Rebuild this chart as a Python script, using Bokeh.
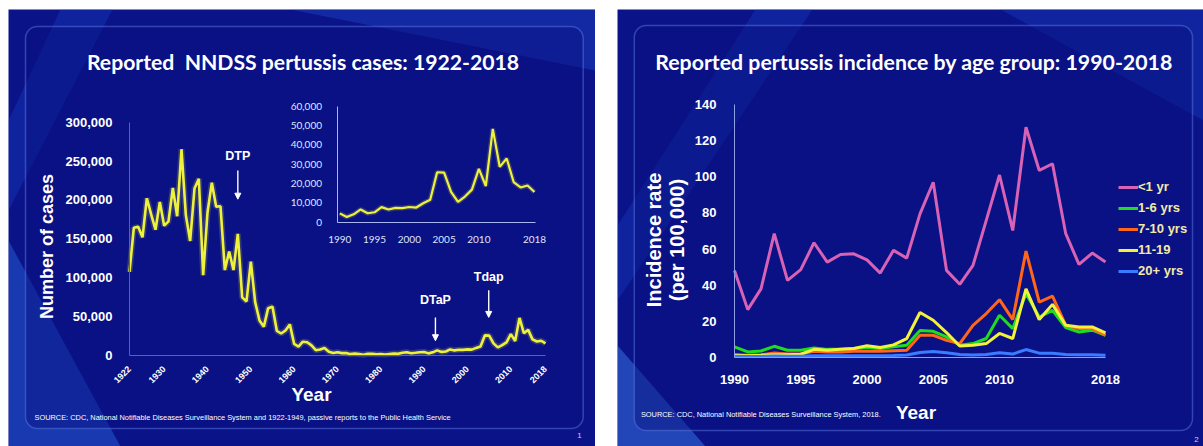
import math
from bokeh.plotting import figure
from bokeh.models import (Range1d, LinearAxis, FixedTicker, NumeralTickFormatter,
                          Label, Arrow, NormalHead, BoxAnnotation, PolyAnnotation,
                          Legend, LegendItem, Spacer)
from bokeh.layouts import row, column
from bokeh.embed import file_html
from bokeh.resources import INLINE

# ---------------- data ----------------
years = list(range(1922, 2019))
cases = [107473, 164191, 165418, 152003, 202210, 181411, 161799, 197371, 166914, 172559,
         215343, 179135, 265269, 180518, 147237, 214652, 227319, 103188, 183866, 222202,
         191383, 191890, 109873, 133792, 109860, 156517, 74715, 69479, 120718, 68687,
         45030, 37129, 60886, 62786, 31732, 28295, 32148, 40005, 14809, 11468,
         17749, 17135, 13005, 6799, 7717, 9718, 4810, 3285, 4249, 3036,
         3287, 1759, 2402, 1738, 1010, 2177, 2063, 1623, 1730, 1248,
         1895, 2463, 2276, 3589, 4195, 2823, 3450, 4157, 4570, 2719,
         4083, 6586, 4617, 5137, 7796, 6564, 7405, 7288, 7867, 7580,
         9771, 11647, 25827, 25616, 15632, 10454, 13278, 16858, 27550, 18719,
         48277, 28639, 32971, 20762, 17972, 18975, 15609]
inset_years = years[68:]
inset_cases = cases[68:]

main_x_ticks = [1922, 1930, 1940, 1950, 1960, 1970, 1980, 1990, 2000, 2010, 2018]
main_y_ticks = [0, 50000, 100000, 150000, 200000, 250000, 300000]
inset_x_ticks = [1990, 1995, 2000, 2005, 2010, 2018]
inset_y_ticks = [0, 10000, 20000, 30000, 40000, 50000, 60000]

vaccines = ["DTP", "DTaP", "Tdap"]
vaccine_years = [1947, 1992.6, 2004.9]

age_years = list(range(1990, 2019))
age_groups = ["<1 yr", "1-6 yrs", "7-10 yrs", "11-19", "20+ yrs"]
inc_lt1 = [48.2, 26.5, 38.0, 68.5, 42.7, 48.6, 63.5, 52.8, 57.0, 57.4, 54.0, 46.7, 59.3, 55.0,
           79.5, 97.0, 48.2, 40.5, 51.0, 75.9, 101.0, 70.3, 127.4, 103.5, 107.2, 68.5, 51.5, 57.8, 52.8]
inc_1_6 = [5.9, 3.1, 3.6, 6.2, 4.0, 4.0, 5.3, 4.5, 4.5, 5.0, 5.5, 5.0, 6.0, 6.8,
           15.0, 14.5, 11.4, 6.8, 7.7, 10.5, 23.4, 16.0, 35.4, 22.4, 26.1, 16.6, 14.1, 15.1, 12.3]
inc_7_10 = [1.5, 1.2, 1.5, 2.5, 2.0, 2.0, 3.5, 3.0, 3.0, 3.5, 3.5, 3.5, 3.8, 4.0,
            12.3, 12.3, 9.5, 7.7, 17.8, 24.3, 32.0, 21.0, 58.9, 30.7, 33.9, 17.8, 16.0, 16.0, 12.3]
inc_11_19 = [1.2, 1.0, 1.2, 1.5, 1.5, 1.8, 4.5, 4.0, 4.5, 5.0, 6.5, 5.5, 7.0, 10.5,
             24.9, 20.6, 13.8, 6.4, 6.8, 7.7, 13.3, 10.5, 38.0, 21.0, 29.4, 17.8, 16.9, 16.9, 13.6]
inc_20p = [0.7, 0.6, 0.6, 0.8, 0.7, 0.7, 1.0, 1.0, 1.0, 1.0, 1.0, 0.9, 1.1, 1.4,
           2.8, 3.3, 2.6, 1.6, 1.4, 1.6, 2.6, 1.9, 4.4, 2.4, 2.3, 1.7, 1.5, 1.5, 1.3]
age_x_ticks = [1990, 1995, 2000, 2005, 2010, 2018]
age_y_ticks = [0, 20, 40, 60, 80, 100, 120, 140]

# ---------------- styles ----------------
SLIDE = "#0b1389"
PANEL_LINE = "#5a78e0"
BOLD = "Liberation Sans"
TITLE_FONT = "Lato"
YELLOW = "#eef23c"
series_colors = ["#d862b4", "#1fdc1f", "#ff6619", "#f2f23c", "#3a7bff"]
PAGE_TOP, PAGE_BOTTOM = 9, 446
H = PAGE_BOTTOM - PAGE_TOP


def slide_fig(width, xr, yr):
    p = figure(width=width, height=H, x_range=xr, y_range=yr,
               min_border_left=0, min_border_right=0, min_border_top=0, min_border_bottom=0,
               x_axis_type=None, y_axis_type=None,
               output_backend="svg", toolbar_location=None)
    p.grid.visible = False
    p.outline_line_color = None
    p.border_fill_color = SLIDE
    p.background_fill_color = SLIDE
    return p


def style_axis(ax, color, font, size, bold, line_color, standoff):
    ax.axis_line_color = line_color
    ax.axis_line_width = 1
    ax.major_tick_line_color = None
    ax.minor_tick_line_color = None
    ax.major_label_text_color = color
    ax.major_label_text_font = font
    ax.major_label_text_font_size = size
    ax.major_label_text_font_style = "bold" if bold else "normal"
    ax.major_label_standoff = standoff


def add_text(p, sx, sy, text, size, bold=True, font=BOLD, color="white", align="center",
             angle=0.0):
    p.add_layout(Label(x=sx, y=sy, x_units="screen", y_units="screen", text=text,
                       angle=angle, text_align=align, text_baseline="middle", text_font=font,
                       text_font_style="bold" if bold else "normal",
                       text_font_size=size, text_color=color))


def decorate(p, sx, sy, polys, panel):
    for xs, ys, col, a in polys:
        p.add_layout(PolyAnnotation(xs=[sx(v) for v in xs], ys=[sy(v) for v in ys],
                                    xs_units="screen", ys_units="screen",
                                    fill_color=col, fill_alpha=a, line_color=None,
                                    level="underlay"))
    l, r, t, b = panel
    p.add_layout(BoxAnnotation(left=sx(l), right=sx(r), top=sy(t), bottom=sy(b),
                               left_units="screen", right_units="screen",
                               top_units="screen", bottom_units="screen",
                               fill_color="#08107e", fill_alpha=0.45, line_color=PANEL_LINE,
                               line_alpha=0.5, line_width=1.5, border_radius=12,
                               level="underlay"))


# ================= LEFT SLIDE =================
L_PAGE_X0, L_W = 8, 587
FX0, FX1 = 129.0, 545.0      # page px of 1922 / 2018
FY0, Y300 = 355.0, 121.7     # page px of 0 / 300,000
k1 = (FX1 - FX0) / 96.0
m1 = (FY0 - Y300) / 300000.0
p1 = slide_fig(L_W,
               Range1d(1922 - (FX0 - L_PAGE_X0) / k1, 2018 + (L_PAGE_X0 + L_W - FX1) / k1),
               Range1d(-(PAGE_BOTTOM - FY0) / m1, (FY0 - PAGE_TOP) / m1))

# inset mapping (page px)
I_X1990, I_X2018, I_Y0, I_Y60 = 339.3, 534.0, 221.7, 105.7
kx = (I_X2018 - I_X1990) / 28.0
ky = (I_Y0 - I_Y60) / 60000.0
p1.extra_x_ranges = {"ix": Range1d(1990 - (I_X1990 - L_PAGE_X0) / kx,
                                   2018 + (L_PAGE_X0 + L_W - I_X2018) / kx)}
p1.extra_y_ranges = {"iy": Range1d(-(PAGE_BOTTOM - I_Y0) / ky, (I_Y0 - PAGE_TOP) / ky)}


def sx1(ax):
    return ax - L_PAGE_X0


def sy1(ay):
    return PAGE_BOTTOM - ay


decorate(p1, sx1, sy1, [
    ([290, 595, 595], [9, 9, 70], "#2352d8", 0.35),
    ([8, 8, 120], [240, 446, 446], "#2b68e2", 0.45),
    ([60, 112, 8, 8], [9, 9, 210, 120], "#1d4ad0", 0.3),
], (25, 582.7, 26, 428))

# main axes
xa = LinearAxis(ticker=FixedTicker(ticks=main_x_ticks), bounds=(1922, 2018),
                fixed_location=0, major_label_orientation=math.pi / 4)
style_axis(xa, "white", BOLD, "9px", True, "#4766cc", 6)
p1.add_layout(xa, "below")
ya = LinearAxis(ticker=FixedTicker(ticks=main_y_ticks), bounds=(0, 300000),
                fixed_location=1922, formatter=NumeralTickFormatter(format="0,0"))
style_axis(ya, "white", BOLD, "13px", True, "#4766cc", 11)
p1.add_layout(ya, "left")

# inset axes
ixa = LinearAxis(x_range_name="ix", y_range_name="iy", fixed_location=0,
                 bounds=(1989.6, 2018.1), ticker=FixedTicker(ticks=inset_x_ticks))
style_axis(ixa, "#dfe6ff", TITLE_FONT, "10px", False, "#a8b8ee", 8)
p1.add_layout(ixa, "below")
iya = LinearAxis(x_range_name="ix", y_range_name="iy", fixed_location=1989.6,
                 bounds=(0, 60000), ticker=FixedTicker(ticks=inset_y_ticks),
                 formatter=NumeralTickFormatter(format="0,0"))
style_axis(iya, "#dfe6ff", TITLE_FONT, "10px", False, "#a8b8ee", 9)
p1.add_layout(iya, "left")

# lines
p1.line(years, cases, line_color=YELLOW, line_width=6, line_alpha=0.18)
p1.line(years, cases, line_color=YELLOW, line_width=2.6)
p1.line(inset_years, inset_cases, x_range_name="ix", y_range_name="iy",
        line_color=YELLOW, line_width=5, line_alpha=0.18)
p1.line(inset_years, inset_cases, x_range_name="ix", y_range_name="iy",
        line_color=YELLOW, line_width=2.2)

# vaccine annotations
arrow_spec = [(238000, 201000, 257000), (49000, 19000, 71000), (84000, 49000, 101000)]
for name, yr, (y_start, y_end, y_lab) in zip(vaccines, vaccine_years, arrow_spec):
    p1.add_layout(Arrow(x_start=yr, y_start=y_start, x_end=yr, y_end=y_end,
                        line_color="white", line_width=1.4,
                        end=NormalHead(size=6, fill_color="white", line_color="white")))
    p1.add_layout(Label(x=yr, y=y_lab, text=name, text_align="center", text_baseline="middle",
                        text_font=BOLD, text_font_style="bold", text_font_size="12.5px",
                        text_color="white"))

add_text(p1, sx1(302.5), sy1(61.7), "Reported\u00a0 NNDSS pertussis cases: 1922-2018",
         "21.2px", font=TITLE_FONT)
add_text(p1, sx1(46), sy1(246), "Number of cases", "18px", angle=math.pi / 2)
add_text(p1, sx1(311), sy1(393.5), "Year", "19px")
add_text(p1, sx1(34), sy1(416.7),
         "SOURCE: CDC, National Notifiable Diseases Surveillance System and "
         "1922-1949, passive reports to the Public Health Service", "7.4px", bold=False,
         align="left")
add_text(p1, sx1(579), sy1(435), "1", "8px", bold=False, color="#c8d0f0")

# ================= RIGHT SLIDE =================
R_PAGE_X0, R_W = 617, 586
RX0, RX2018 = 734.0, 1105.0
RY0, RY140 = 357.0, 104.0
k2 = (RX2018 - RX0) / 28.0
m2 = (RY0 - RY140) / 140.0
p2 = slide_fig(R_W,
               Range1d(1990 - (RX0 - R_PAGE_X0) / k2, 2018 + (R_PAGE_X0 + R_W - RX2018) / k2),
               Range1d(-(PAGE_BOTTOM - RY0) / m2, (RY0 - PAGE_TOP) / m2))


def sx2(ax):
    return ax - R_PAGE_X0


def sy2(ay):
    return PAGE_BOTTOM - ay


decorate(p2, sx2, sy2, [
    ([755, 812, 617, 617], [9, 9, 300, 225], "#1d4ad0", 0.3),
    ([617, 617, 705], [345, 446, 446], "#3a7ae8", 0.5),
    ([1000, 1203, 1203], [9, 9, 120], "#1f4cd4", 0.3),
], (633.8, 1192, 25, 430))

xa2 = LinearAxis(ticker=FixedTicker(ticks=age_x_ticks), bounds=(1990, 2018), fixed_location=0)
style_axis(xa2, "white", BOLD, "13px", True, "#8da0e6", 11)
p2.add_layout(xa2, "below")
ya2 = LinearAxis(ticker=FixedTicker(ticks=age_y_ticks), bounds=(0, 140), fixed_location=1990)
style_axis(ya2, "white", BOLD, "13px", True, "#8da0e6", 12)
p2.add_layout(ya2, "left")

items = []
for name, vals, col in zip(age_groups, [inc_lt1, inc_1_6, inc_7_10, inc_11_19, inc_20p],
                           series_colors):
    r = p2.line(age_years, vals, line_color=col, line_width=3)
    items.append(LegendItem(label=name, renderers=[r]))

legend = Legend(items=items, location=(sx2(1118), sy2(280.7)), orientation="vertical",
                glyph_width=20, glyph_height=20, label_height=20, label_standoff=0,
                spacing=1, padding=0, margin=0, border_line_color=None,
                background_fill_alpha=0, label_text_font=BOLD,
                label_text_font_style="bold", label_text_font_size="13px",
                label_text_color="#f4e9a8")
p2.add_layout(legend)

add_text(p2, sx2(913.5), sy2(61.7), "Reported pertussis incidence by age group: 1990-2018",
         "21.3px", font=TITLE_FONT)
add_text(p2, sx2(653), sy2(239.5), "Incidence rate", "20px", angle=math.pi / 2)
add_text(p2, sx2(676), sy2(239.5), "(per 100,000)", "20px", angle=math.pi / 2)
add_text(p2, sx2(915.5), sy2(411.5), "Year", "19px")
add_text(p2, sx2(640.4), sy2(414),
         "SOURCE: CDC, National Notifiable Diseases Surveillance System, 2018.", "7.4px",
         bold=False, align="left")
add_text(p2, sx2(1196), sy2(439), "2", "8px", bold=False, color="#c8d0f0")

layout = column(Spacer(width=1203, height=PAGE_TOP),
                row(Spacer(width=L_PAGE_X0, height=H), p1, Spacer(width=22, height=H), p2))
open("out.html", "w").write(file_html(layout, INLINE))
